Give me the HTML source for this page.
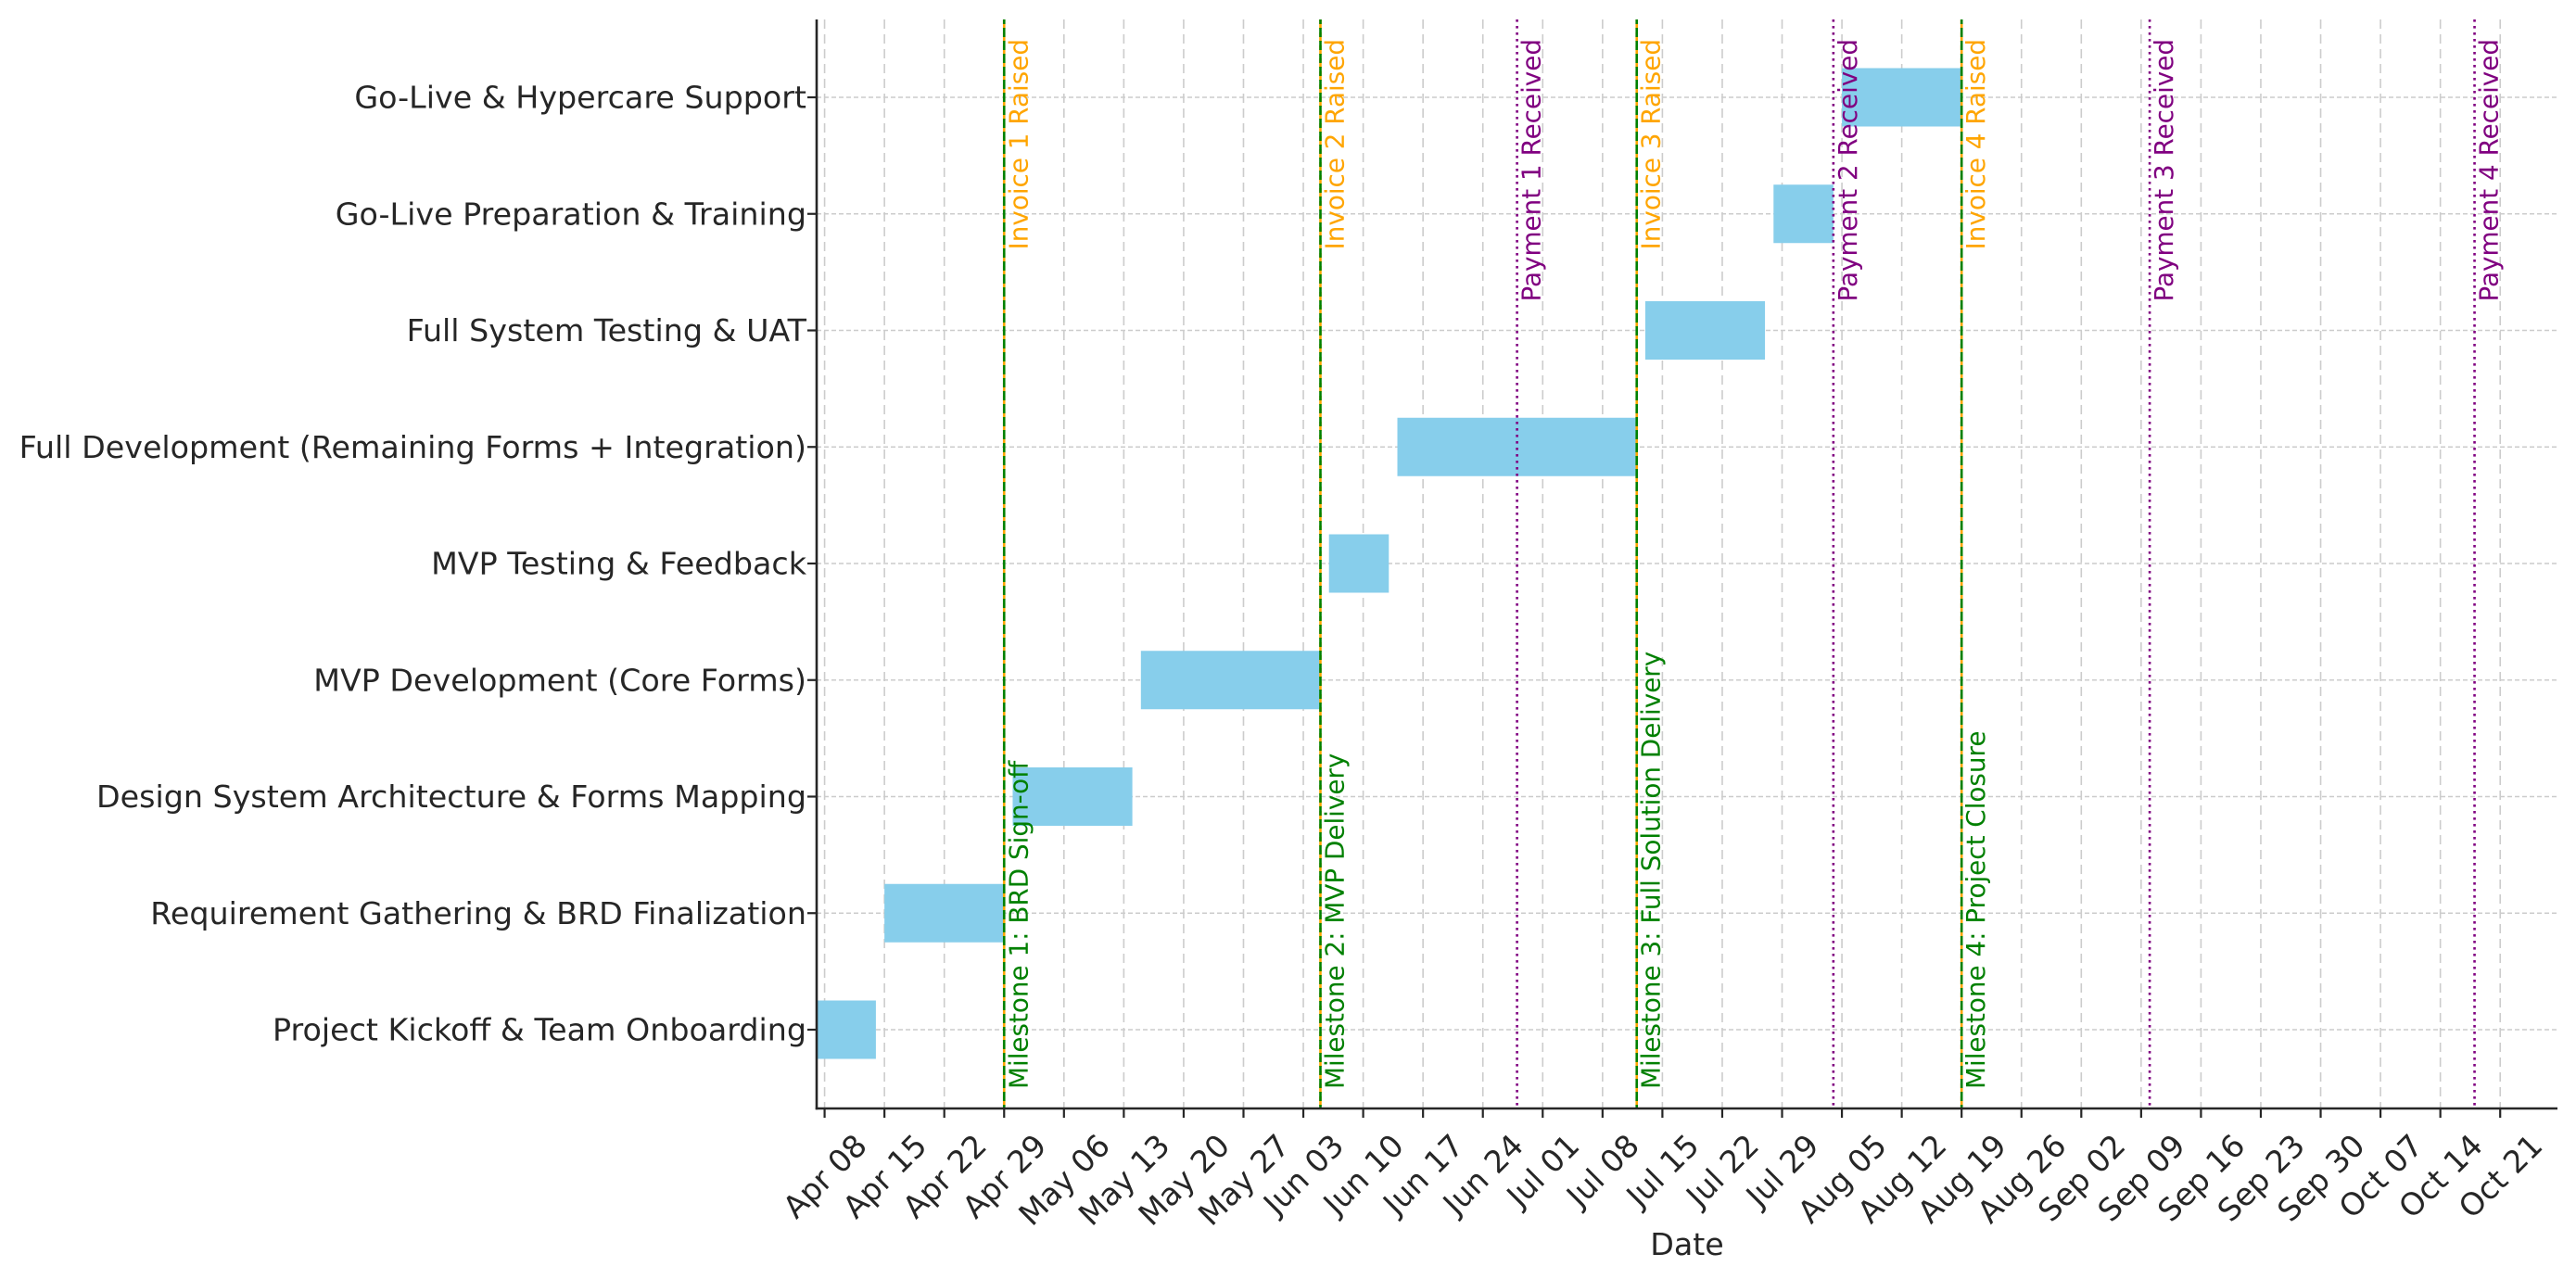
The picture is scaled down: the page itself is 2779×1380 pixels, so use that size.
<!DOCTYPE html>
<html><head><meta charset="utf-8"><style>
html,body{margin:0;padding:0;background:#fff;}
svg{display:block;font-family:"DejaVu Sans","Liberation Sans",sans-serif;}
</style></head><body>
<svg id="chart" width="2779" height="1380" viewBox="0 0 2779 1380" xmlns="http://www.w3.org/2000/svg">
<g id="grid"></g>
<g id="bars"></g>
<g id="events"></g>
<g id="axes"></g>
</svg>
<script>
const tasks = ["Project Kickoff & Team Onboarding","Requirement Gathering & BRD Finalization","Design System Architecture & Forms Mapping","MVP Development (Core Forms)","MVP Testing & Feedback","Full Development (Remaining Forms + Integration)","Full System Testing & UAT","Go-Live Preparation & Training","Go-Live & Hypercare Support"];
const taskStarts = ["2024-04-07","2024-04-15","2024-04-30","2024-05-15","2024-06-06","2024-06-14","2024-07-13","2024-07-28","2024-08-05"];
const taskEnds = ["2024-04-14","2024-04-29","2024-05-14","2024-06-05","2024-06-13","2024-07-12","2024-07-27","2024-08-04","2024-08-19"];
const milestoneLabels = ["Milestone 1: BRD Sign-off","Milestone 2: MVP Delivery","Milestone 3: Full Solution Delivery","Milestone 4: Project Closure"];
const milestoneDates = ["2024-04-29","2024-06-05","2024-07-12","2024-08-19"];
const invoiceLabels = ["Invoice 1 Raised","Invoice 2 Raised","Invoice 3 Raised","Invoice 4 Raised"];
const invoiceDates = ["2024-04-29","2024-06-05","2024-07-12","2024-08-19"];
const paymentLabels = ["Payment 1 Received","Payment 2 Received","Payment 3 Received","Payment 4 Received"];
const paymentDates = ["2024-06-28","2024-08-04","2024-09-10","2024-10-18"];
const tickLabels = ["Apr 08","Apr 15","Apr 22","Apr 29","May 06","May 13","May 20","May 27","Jun 03","Jun 10","Jun 17","Jun 24","Jul 01","Jul 08","Jul 15","Jul 22","Jul 29","Aug 05","Aug 12","Aug 19","Aug 26","Sep 02","Sep 09","Sep 16","Sep 23","Sep 30","Oct 07","Oct 14","Oct 21"];
const tickDates = ["2024-04-08","2024-04-15","2024-04-22","2024-04-29","2024-05-06","2024-05-13","2024-05-20","2024-05-27","2024-06-03","2024-06-10","2024-06-17","2024-06-24","2024-07-01","2024-07-08","2024-07-15","2024-07-22","2024-07-29","2024-08-05","2024-08-12","2024-08-19","2024-08-26","2024-09-02","2024-09-09","2024-09-16","2024-09-23","2024-09-30","2024-10-07","2024-10-14","2024-10-21"];

const NS="http://www.w3.org/2000/svg";
const L=881,R=2759,T=21,B=1196;
const ref=Date.UTC(2024,3,8);
function day(s){const p=s.split("-");return (Date.UTC(+p[0],+p[1]-1,+p[2])-ref)/86400000;}
const xMin=-0.93,xMax=202.7;
function xs(s){return L+(day(s)-xMin)/(xMax-xMin)*(R-L);}
function ys(i){return 1111-i*125.75;}
function mk(tag,attrs,parent){const e=document.createElementNS(NS,tag);for(const k in attrs)e.setAttribute(k,attrs[k]);parent.appendChild(e);return e;}
const grid=document.getElementById('grid'),bars=document.getElementById('bars'),ev=document.getElementById('events'),axes=document.getElementById('axes');

// grid
tickDates.forEach((d,i)=>{const x=xs(d);
 const g=mk('line',{x1:x,x2:x,y1:T,y2:B,stroke:'#cccccc','stroke-width':1.6,'stroke-dasharray':'10,6'},grid);
 
 });
tasks.forEach((t,i)=>{const y=ys(i);
 const g=mk('line',{x1:L,x2:R,y1:y,y2:y,stroke:'#cccccc','stroke-width':1.6,'stroke-dasharray':'5,3'},grid);
 
 });

// bars
const cp=mk('clipPath',{id:'clip'},document.getElementById('chart'));
mk('rect',{x:L,y:T,width:R-L,height:B-T},cp);
bars.setAttribute('clip-path','url(#clip)');
tasks.forEach((t,i)=>{const x0=xs(taskStarts[i]),x1=xs(taskEnds[i]);
 const r=mk('rect',{x:x0,y:ys(i)-31.5,width:x1-x0,height:63,fill:'#87CEEB'},bars);
 
 });

// event lines
function vline(x,color,dash,off){return mk('line',{x1:x,x2:x,y1:T,y2:B,stroke:color,'stroke-width':2.6,'stroke-dasharray':dash,'stroke-dashoffset':off},ev);}
function vtext(x,y,label,color,anchor){const t=mk('text',{transform:`translate(${x+25},${y}) rotate(-90)`,'font-size':27.8,fill:color,'text-anchor':anchor},ev);t.textContent=label;return t;}
invoiceDates.forEach((d,i)=>{const x=xs(d);
 const l=vline(x,'#FFA500','10,4',0);
 
 
 const t=vtext(x,42,invoiceLabels[i],'#FFA500','end');
 
 });
milestoneDates.forEach((d,i)=>{const x=xs(d);
 const l=vline(x,'#008000','10,4',5);
 
 
 const t=vtext(x,1175,milestoneLabels[i],'#008000','start');
 
 });
paymentDates.forEach((d,i)=>{const x=xs(d);
 const l=vline(x,'#800080','2.6,4.4',0);
 
 
 const t=vtext(x,42,paymentLabels[i],'#800080','end');
 
 });

// axes
const sl=mk('line',{x1:L,x2:L,y1:T,y2:B+1.2,stroke:'#262626','stroke-width':2.6},axes);


const sb=mk('line',{x1:L-1.2,x2:R,y1:B,y2:B,stroke:'#262626','stroke-width':2.6},axes);


tasks.forEach((t,i)=>{const y=ys(i);
 mk('line',{x1:L-10,x2:L,y1:y,y2:y,stroke:'#262626','stroke-width':2.2},axes);
 const tx=mk('text',{x:870,y:y+11.5,'font-size':33.3,fill:'#262626','text-anchor':'end'},axes);
 tx.textContent=t;
 
 });
tickDates.forEach((d,i)=>{const x=xs(d);
 mk('line',{x1:x,x2:x,y1:B,y2:B+10,stroke:'#262626','stroke-width':2.2},axes);
 const tx=mk('text',{'font-size':33.3,fill:'#262626','text-anchor':'middle'},axes);
 tx.textContent=tickLabels[i];
 
 
 const w=tx.getComputedTextLength();const h=33.3*1.16;
 const bh=(w+h)*0.7071;const cx=x,cy=B+20+bh/2;
 tx.setAttribute('transform',`translate(${cx},${cy}) rotate(-45)`);
 tx.setAttribute('dy','0.36em');});
const xl=mk('text',{x:1820,y:1354,'font-size':33.3,fill:'#262626','text-anchor':'middle'},axes);
xl.textContent='Date';


</script>
</body></html>
